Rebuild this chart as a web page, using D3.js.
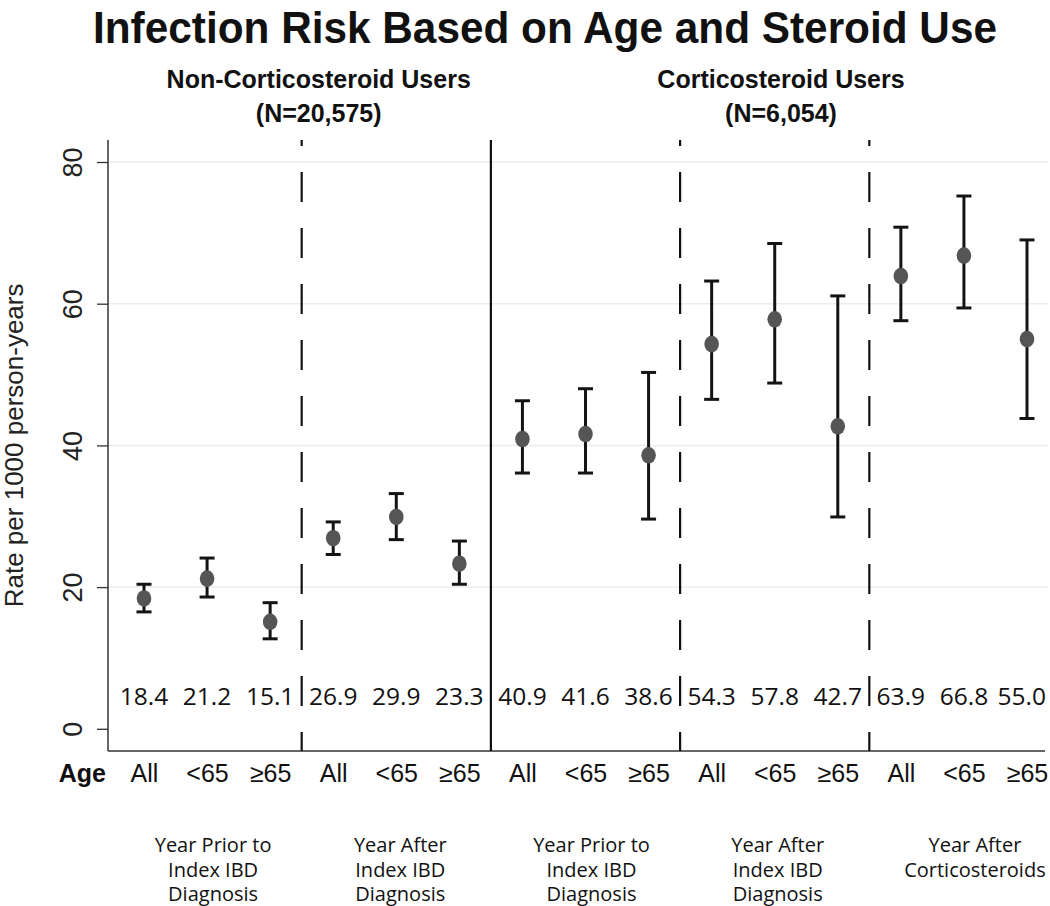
<!DOCTYPE html>
<html>
<head>
<meta charset="utf-8">
<script src="https://cdn.jsdelivr.net/npm/d3@7"></script>
<style>
  html, body { margin: 0; padding: 0; background: #fff; }
  svg { display: block; }
</style>
</head>
<body>
<svg id="chart" width="1050" height="906"></svg>
<script>
// ---------- data ----------
const ageLabels = ["All", "<65", "≥65", "All", "<65", "≥65", "All", "<65", "≥65",
                   "All", "<65", "≥65", "All", "<65", "≥65"];
const rates = [18.4, 21.2, 15.1, 26.9, 29.9, 23.3, 40.9, 41.6, 38.6,
               54.3, 57.8, 42.7, 63.9, 66.8, 55.0];
const lowerCI = [16.5, 18.6, 12.7, 24.6, 26.7, 20.4, 36.1, 36.1, 29.6,
                 46.5, 48.8, 29.9, 57.6, 59.4, 43.8];
const upperCI = [20.4, 24.1, 17.8, 29.2, 33.2, 26.5, 46.3, 48.0, 50.3,
                 63.2, 68.5, 61.1, 70.8, 75.2, 69.0];
const periodLabels = [
  ["Year Prior to", "Index IBD", "Diagnosis"],
  ["Year After", "Index IBD", "Diagnosis"],
  ["Year Prior to", "Index IBD", "Diagnosis"],
  ["Year After", "Index IBD", "Diagnosis"],
  ["Year After", "Corticosteroids"]
];
const sectionLabels = [
  ["Non-Corticosteroid Users", "(N=20,575)"],
  ["Corticosteroid Users", "(N=6,054)"]
];
const dividers = [2.5, 5.5, 8.5, 11.5];
const dividerSolid = [false, true, false, false];
const yTicks = [0, 20, 40, 60, 80];
const titleText = "Infection Risk Based on Age and Steroid Use";
const yTitle = "Rate per 1000 person-years";

// ---------- layout ----------
const svg = d3.select("#chart");
const W = 1050;
const plotTop = 140, plotBottom = 751, plotLeft = 108, plotRight = 1048;
const x = d3.scaleLinear().domain([0, 14]).range([144, 1027]);
const y = d3.scaleLinear().domain([0, 80]).range([728.8, 162]);
const sans = "'Liberation Sans', Arial, Helvetica, sans-serif";
const human = "'Open Sans', 'Noto Sans', sans-serif";
const sectionCenters = [2.77, 10.1];          // in category-index units
const periodShift = [6, 4, 6, 3, 11];         // px nudges of period labels

// title
svg.append("text")
  .attr("x", 545).attr("y", 43)
  .attr("text-anchor", "middle")
  .attr("font-family", sans).attr("font-weight", "bold")
  .attr("font-size", 44)
  .attr("textLength", 904).attr("lengthAdjust", "spacingAndGlyphs")
  .attr("fill", "#111")
  .text(titleText);

// section headers
sectionLabels.forEach((lines, i) => {
  const cx = x(sectionCenters[i]);
  lines.forEach((ln, j) => {
    svg.append("text")
      .attr("x", cx).attr("y", 88 + j * 34)
      .attr("text-anchor", "middle")
      .attr("font-family", sans).attr("font-weight", "bold")
      .attr("font-size", 25)
      .attr("fill", "#111")
      .text(ln);
  });
});

// gridlines
svg.append("g").selectAll("line")
  .data(yTicks.filter(d => d > 0))
  .join("line")
  .attr("x1", plotLeft).attr("x2", plotRight)
  .attr("y1", d => y(d)).attr("y2", d => y(d))
  .attr("stroke", "#ececec").attr("stroke-width", 1.5);

// y axis
const yAxis = svg.append("g")
  .attr("transform", `translate(${plotLeft},0)`)
  .call(d3.axisLeft(y).tickValues(yTicks).tickSize(11).tickPadding(0).tickFormat(d3.format("d")));
yAxis.select(".domain").remove();
yAxis.selectAll(".tick line").attr("stroke", "#333").attr("stroke-width", 1.3);
yAxis.selectAll(".tick text")
  .attr("font-family", sans).attr("font-size", 27).attr("fill", "#222")
  .attr("transform", "translate(-26,0) rotate(-90)")
  .attr("x", 0).attr("dy", 0).attr("y", 0)
  .attr("text-anchor", "middle");
svg.append("line")
  .attr("x1", plotLeft).attr("x2", plotLeft)
  .attr("y1", plotTop).attr("y2", plotBottom)
  .attr("stroke", "#333").attr("stroke-width", 1.5);

// y title
svg.append("text")
  .attr("transform", `translate(23,${y(40)}) rotate(-90)`)
  .attr("text-anchor", "middle")
  .attr("font-family", sans).attr("font-size", 26).attr("fill", "#222")
  .text(yTitle);

// x axis
const xAxis = svg.append("g")
  .attr("transform", `translate(0,${plotBottom})`)
  .call(d3.axisBottom(x).tickValues(d3.range(ageLabels.length)).tickSize(0).tickPadding(0)
        .tickFormat(i => ageLabels[i]));
xAxis.select(".domain").remove();
xAxis.selectAll(".tick text")
  .attr("font-family", sans).attr("font-size", 25).attr("fill", "#111")
  .attr("dy", 0).attr("y", 31);
svg.append("line")
  .attr("x1", plotLeft).attr("x2", 1045)
  .attr("y1", plotBottom).attr("y2", plotBottom)
  .attr("stroke", "#333").attr("stroke-width", 1.5);
svg.append("text")
  .attr("x", 106).attr("y", plotBottom + 31)
  .attr("text-anchor", "end")
  .attr("font-family", sans).attr("font-weight", "bold").attr("font-size", 25)
  .attr("fill", "#111")
  .text("Age");

// dividers
svg.append("g").selectAll("line")
  .data(dividers)
  .join("line")
  .attr("x1", d => x(d)).attr("x2", d => x(d))
  .attr("y1", plotTop).attr("y2", plotBottom)
  .attr("stroke", "#111").attr("stroke-width", 2.2)
  .attr("stroke-dasharray", (d, i) => dividerSolid[i] ? null : "30,26")
  .attr("stroke-dashoffset", 24);

// value labels (kept inside the right edge)
svg.append("g").selectAll("text")
  .data(rates)
  .join("text")
  .attr("x", (d, i) => x(i)).attr("y", 705)
  .attr("text-anchor", "middle")
  .attr("font-family", human).attr("font-size", 24.5).attr("fill", "#111")
  .text(d => d.toFixed(1))
  .each(function (d, i) {
    const half = this.getComputedTextLength() / 2;
    const cx = Math.min(x(i), W - 4 - half);
    d3.select(this).attr("x", cx);
  });

// error bars
const eb = svg.append("g");
const idx = d3.range(rates.length);
eb.selectAll("line.stem").data(idx).join("line").attr("class", "stem")
  .attr("x1", i => x(i)).attr("x2", i => x(i))
  .attr("y1", i => y(lowerCI[i])).attr("y2", i => y(upperCI[i]))
  .attr("stroke", "#141414").attr("stroke-width", 3);
[lowerCI, upperCI].forEach(arr => {
  eb.append("g").selectAll("line").data(idx).join("line")
    .attr("x1", i => x(i) - 7.5).attr("x2", i => x(i) + 7.5)
    .attr("y1", i => y(arr[i])).attr("y2", i => y(arr[i]))
    .attr("stroke", "#141414").attr("stroke-width", 3);
});

// points
svg.append("g").selectAll("ellipse")
  .data(rates)
  .join("ellipse")
  .attr("cx", (d, i) => x(i)).attr("cy", d => y(d))
  .attr("rx", 7.3).attr("ry", 8.3)
  .attr("fill", "#555");

// period labels
periodLabels.forEach((lines, g) => {
  const cx = x(g * 3 + 1) + periodShift[g];
  lines.forEach((ln, j) => {
    svg.append("text")
      .attr("x", cx).attr("y", 852 + j * 24.5)
      .attr("text-anchor", "middle")
      .attr("font-family", human).attr("font-size", 20).attr("fill", "#111")
      .text(ln);
  });
});
</script>
</body>
</html>
